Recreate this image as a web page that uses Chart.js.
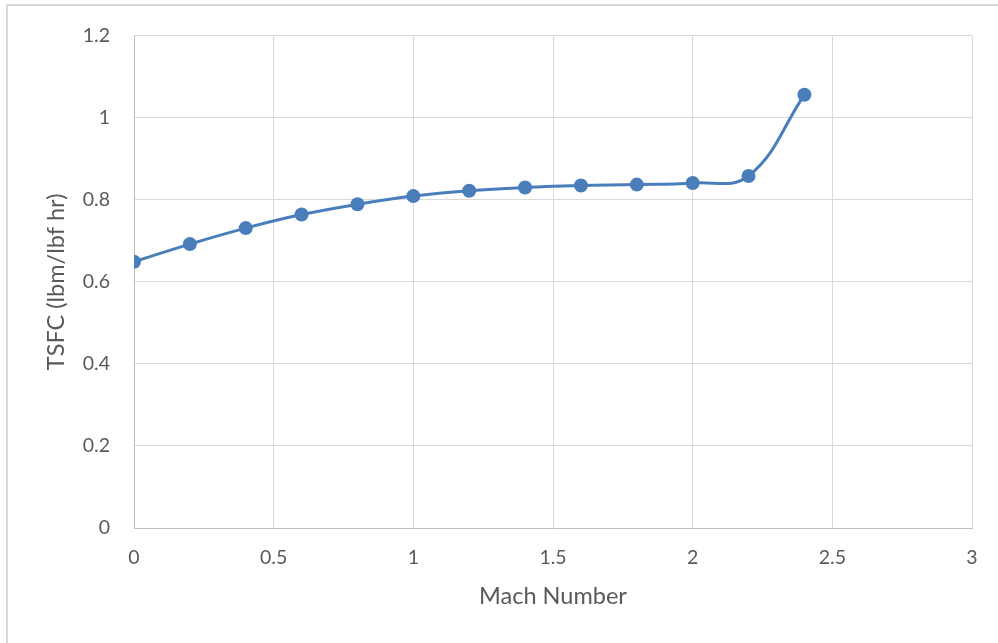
<!DOCTYPE html>
<html>
<head>
<meta charset="utf-8">
<script src="https://cdn.jsdelivr.net/npm/chart.js@4/dist/chart.umd.min.js"></script>
<style>
  html, body { margin: 0; padding: 0; background: #ffffff; }
  #wrap { position: relative; width: 998px; height: 643px; overflow: hidden; }
  #frame { position: absolute; left: 6px; top: 4px; width: 1000px; height: 650px;
           border: 2px solid #d9d9d9; box-sizing: border-box; }
  canvas { position: absolute; left: 0; top: 0; }
</style>
</head>
<body>
<div id="wrap">
  <div id="frame"></div>
  <canvas id="c" width="998" height="643"></canvas>
</div>
<script>
// Thrust-specific fuel consumption versus flight Mach number
const machNumbers = [0, 0.2, 0.4, 0.6, 0.8, 1.0, 1.2, 1.4, 1.6, 1.8, 2.0, 2.2, 2.4];
const tsfcValues  = [0.649, 0.692, 0.731, 0.764, 0.789, 0.809, 0.822, 0.830, 0.835, 0.837, 0.841, 0.858, 1.056];
const xTicks = [0, 0.5, 1, 1.5, 2, 2.5, 3];
const yTicks = [0, 0.2, 0.4, 0.6, 0.8, 1, 1.2];

const points = machNumbers.map((m, i) => ({ x: m, y: tsfcValues[i] }));
const textColor = '#595959';
const fontFamily = 'Lato, "Open Sans", sans-serif';

new Chart(document.getElementById('c'), {
  type: 'scatter',
  data: {
    datasets: [{
      data: points,
      showLine: true,
      borderColor: '#4a7ebb',
      backgroundColor: '#4a7ebb',
      borderWidth: 3,
      tension: 0.4,
      pointRadius: 7,
      pointHoverRadius: 7,
      pointBorderWidth: 0
    }]
  },
  options: {
    responsive: false,
    animation: false,
    layout: { padding: { top: 35, right: 26, left: 38, bottom: 0 } },
    plugins: { legend: { display: false }, tooltip: { enabled: false } },
    scales: {
      x: {
        type: 'linear',
        min: 0, max: 3,
        afterBuildTicks: (axis) => { axis.ticks = xTicks.map(v => ({ value: v })); },
        afterFit: (axis) => { axis.height = 643 - 528; },
        grid: { color: '#d9d9d9', lineWidth: 1, drawTicks: false },
        border: { color: '#bfbfbf', width: 1 },
        ticks: {
          padding: 18,
          color: textColor,
          font: { family: fontFamily, size: 19.5 },
          callback: (v) => String(v)
        },
        title: {
          display: true,
          text: 'Mach Number',
          color: textColor,
          font: { family: fontFamily, size: 23.5 },
          padding: { top: 4, bottom: 32 }
        }
      },
      y: {
        type: 'linear',
        min: 0, max: 1.2,
        afterBuildTicks: (axis) => { axis.ticks = yTicks.map(v => ({ value: v })); },
        afterFit: (axis) => { axis.width = 134 - 38; },
        grid: { color: '#d9d9d9', lineWidth: 1, drawTicks: false },
        border: { color: '#bfbfbf', width: 1 },
        ticks: {
          padding: 24,
          color: textColor,
          font: { family: fontFamily, size: 19.5 },
          callback: (v) => String(v)
        },
        title: {
          display: true,
          text: 'TSFC (lbm/lbf hr)',
          color: textColor,
          font: { family: fontFamily, size: 23.5 },
          padding: { top: 4, bottom: 0 }
        }
      }
    }
  }
});
</script>
</body>
</html>
